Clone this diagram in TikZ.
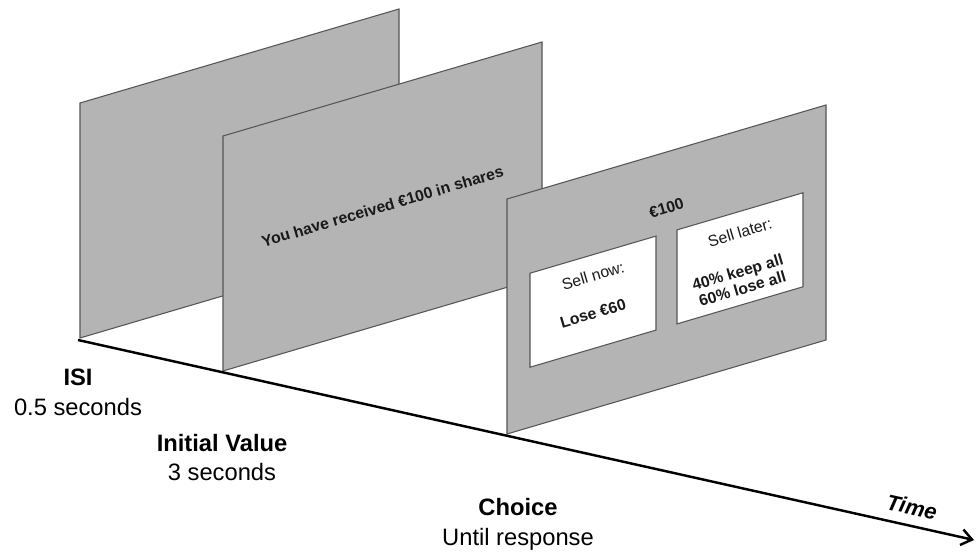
\documentclass[tikz,border=0pt]{standalone}
\usepackage{fontspec}
\setmainfont{Liberation Sans}
\usetikzlibrary{arrows.meta,positioning}
\definecolor{panelgray}{RGB}{180,180,180}
\definecolor{panelline}{RGB}{85,85,85}
\definecolor{inktext}{RGB}{25,25,25}
\tikzset{
    %Define standard arrow tip
    >={Straight Barb[length=6pt,width=9pt,line width=1.4pt]},
    %Define style for the screens
    panel/.style={
           fill=panelgray,
           draw=panelline, line width=0.6pt},
    optbox/.style={
           fill=white,
           draw=panelline, line width=0.6pt},
    screentext/.style={
           rotate=16.4,
           text=inktext,
           align=center,
           inner sep=1pt,
           font=\fontsize{9}{9.6}\selectfont},
    timelabel/.style={
           align=center,
           font=\fontsize{13.5}{17}\selectfont},
    % Define arrow style
    timearr/.style={
           ->,
           line width=1.4pt}
}

\begin{document}
\begin{tikzpicture}[x=0.02cm,y=-0.02cm]
  \useasboundingbox (0,0) rectangle (976,553);

  % ISI screen
  \begin{scope}[shift={(80,338)},yslant=0.2947]
    \draw[panel] (0,0) rectangle (319,-235);
  \end{scope}

  % initial value screen
  \begin{scope}[shift={(223,371)},yslant=0.2947]
    \draw[panel] (0,0) rectangle (319,-235);
    \node[screentext] (received) at (159.5,-117.5) {\bfseries You have received €100 in shares};
  \end{scope}

  % choice screen
  \begin{scope}[shift={(507,434)},yslant=0.2947]
    \draw[panel] (0,0) rectangle (319,-235);
    \draw[optbox] (23,-154) rectangle (149,-60);
    \draw[optbox] (170,-154) rectangle (296,-60);
    \node[screentext] (amount) at (159.5,-179) {\bfseries €100};
    \node[screentext] (nowhead) at (86,-133) {Sell now:};
    \node[screentext] (nowval) at (86,-95) {\bfseries Lose €60};
    \node[screentext] (laterhead) at (233,-133) {Sell later:};
    \node[screentext] (laterval) at (233,-85) {\bfseries 40\% keep all\\\bfseries 60\% lose all};
  \end{scope}

  % time axis
  \coordinate (t0) at (78,340);
  \coordinate (t1) at (974,540);
  \draw[timearr] (t0) -- (t1);
  \node[font=\fontsize{12.5}{14}\selectfont\bfseries\itshape, rotate=-12.5] (time) at (912,507) {Time};

  \node[timelabel] (isi) at (78,392) {\textbf{ISI}\\0.5 seconds};
  \node[timelabel] (initial) at (222,457.5) {\textbf{Initial Value}\\3 seconds};
  \node[timelabel] (choice) at (518,524.5) {\textbf{Choice}\\Until response};
\end{tikzpicture}
\end{document}
